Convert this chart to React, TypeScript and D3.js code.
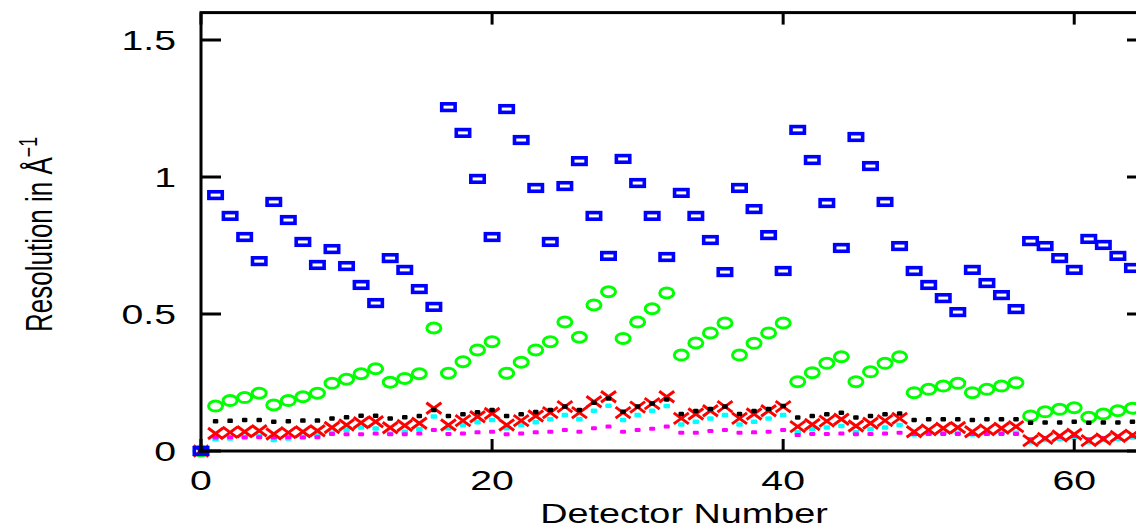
import React from "react";
import * as d3 from "d3";

// Resolution (1/Å) per detector, six quantities
const blueSquares = [
  0, 0.934, 0.858, 0.781, 0.693, 0.909, 0.843, 0.763, 0.679, 0.737, 0.675, 0.606, 0.54,
  0.704, 0.661, 0.591, 0.526, 1.255, 1.161, 0.993, 0.781, 1.248, 1.135, 0.96, 0.763,
  0.967, 1.058, 0.858, 0.712, 1.066, 0.978, 0.858, 0.708, 0.942, 0.858, 0.77, 0.653,
  0.96, 0.883, 0.788, 0.657, 1.172, 1.062, 0.905, 0.741, 1.146, 1.04, 0.909, 0.748,
  0.657, 0.606, 0.558, 0.507, 0.661, 0.613, 0.569, 0.518, 0.766, 0.748, 0.704, 0.661,
  0.774, 0.752, 0.712, 0.668,
];
const greenCircles = [
  0, 0.164, 0.184, 0.195, 0.211, 0.168, 0.184, 0.198, 0.211, 0.247, 0.262, 0.282, 0.3,
  0.251, 0.265, 0.282, 0.449, 0.284, 0.326, 0.369, 0.399, 0.284, 0.324, 0.369, 0.399,
  0.471, 0.415, 0.533, 0.581, 0.411, 0.471, 0.519, 0.577, 0.35, 0.394, 0.431, 0.467,
  0.35, 0.393, 0.431, 0.467, 0.253, 0.286, 0.32, 0.344, 0.253, 0.289, 0.32, 0.344,
  0.213, 0.225, 0.237, 0.247, 0.213, 0.225, 0.237, 0.249, 0.128, 0.143, 0.152, 0.158,
  0.123, 0.135, 0.147, 0.156,
];
const blackDots = [
  0, 0.109, 0.11, 0.113, 0.113, 0.107, 0.109, 0.111, 0.111, 0.119, 0.123, 0.129, 0.129,
  0.119, 0.123, 0.128, 0.15, 0.128, 0.134, 0.141, 0.15, 0.128, 0.134, 0.142, 0.15,
  0.162, 0.15, 0.176, 0.192, 0.143, 0.162, 0.173, 0.188, 0.135, 0.146, 0.153, 0.162,
  0.135, 0.146, 0.153, 0.164, 0.122, 0.128, 0.134, 0.14, 0.122, 0.128, 0.134, 0.137,
  0.113, 0.116, 0.116, 0.116, 0.113, 0.116, 0.116, 0.116, 0.103, 0.104, 0.104, 0.107,
  0.103, 0.104, 0.104, 0.107,
];
const redCrosses = [
  0, 0.064, 0.068, 0.07, 0.074, 0.062, 0.067, 0.07, 0.074, 0.086, 0.095, 0.103, 0.107,
  0.085, 0.093, 0.101, 0.156, 0.095, 0.111, 0.125, 0.137, 0.095, 0.111, 0.128, 0.14,
  0.162, 0.14, 0.18, 0.198, 0.14, 0.16, 0.173, 0.198, 0.119, 0.135, 0.147, 0.162,
  0.119, 0.135, 0.147, 0.162, 0.089, 0.097, 0.109, 0.116, 0.091, 0.101, 0.111, 0.119,
  0.07, 0.077, 0.083, 0.086, 0.07, 0.077, 0.083, 0.089, 0.038, 0.046, 0.055, 0.061,
  0.038, 0.044, 0.053, 0.058,
];
const cyanDots = [
  0, 0.043, 0.046, 0.052, 0.055, 0.04, 0.046, 0.052, 0.058, 0.067, 0.077, 0.086, 0.082,
  0.063, 0.07, 0.079, 0.126, 0.083, 0.095, 0.105, 0.113, 0.083, 0.095, 0.105, 0.116,
  0.131, 0.116, 0.147, 0.165, 0.113, 0.131, 0.147, 0.164, 0.097, 0.107, 0.119, 0.131,
  0.097, 0.107, 0.119, 0.131, 0.068, 0.079, 0.086, 0.091, 0.068, 0.079, 0.086, 0.095,
  0.06, 0.064, 0.066, 0.067, 0.06, 0.064, 0.066, 0.067, 0.032, 0.04, 0.044, 0.049,
  0.032, 0.04, 0.044, 0.049,
];
const magentaDots = [
  0, 0.049, 0.05, 0.049, 0.05, 0.049, 0.05, 0.049, 0.05, 0.062, 0.061, 0.061, 0.064,
  0.061, 0.061, 0.064, 0.077, 0.062, 0.064, 0.068, 0.07, 0.061, 0.064, 0.068, 0.07,
  0.077, 0.07, 0.083, 0.089, 0.07, 0.077, 0.081, 0.089, 0.067, 0.067, 0.073, 0.077,
  0.067, 0.068, 0.07, 0.077, 0.058, 0.062, 0.062, 0.064, 0.061, 0.062, 0.064, 0.067,
  0.062, 0.062, 0.062, 0.062, 0.062, 0.062, 0.062, 0.062, 0.043, 0.047, 0.052, 0.055,
  0.043, 0.047, 0.052, 0.055,
];

const xTicks = [0, 20, 40, 60];
const yTicks = [0, 0.5, 1, 1.5];
const yTickLabels = ["0", "0.5", "1", "1.5"];
const xTitle = "Detector Number";

const W = 1136;
const H = 530;
const left = 201;
const right = 1147;
const top = 12.6;
const bottom = 451;
const STRETCH = 1.4;
const FONT = "'Liberation Sans', Arial, Helvetica, sans-serif";

export default function App() {
  const x = d3.scaleLinear().domain([0, 65]).range([left, right]);
  const y = d3.scaleLinear().domain([0, 1.6]).range([bottom, top]);
  const detectors = blueSquares.map((_, i) => i);

  const dots = (vals: number[], color: string, w: number, h: number) =>
    detectors.map((d) => (
      <rect
        key={d}
        x={x(d) - w / 2}
        y={y(vals[d]) - h / 2}
        width={w}
        height={h}
        rx={1.2}
        fill={color}
      />
    ));

  return (
    <svg
      width={W}
      height={H}
      style={{ position: "absolute", left: 0, top: 0, background: "#fff" }}
    >
      {/* green circles */}
      <g fill="none" stroke="#00ff00" strokeWidth={3}>
        {detectors.map((d) => (
          <ellipse key={d} cx={x(d)} cy={y(greenCircles[d])} rx={7} ry={5} />
        ))}
      </g>
      <g>{dots(cyanDots, "#00ffff", 6.5, 4.5)}</g>
      <g>{dots(magentaDots, "#ff00ff", 6, 4)}</g>
      {/* red crosses */}
      <g stroke="#ff0000" strokeWidth={3} fill="none">
        {detectors.map((d) => {
          const cx = x(d);
          const cy = y(redCrosses[d]);
          return (
            <path
              key={d}
              d={`M${cx - 7.5},${cy - 5.5}L${cx + 7.5},${cy + 5.5}M${cx - 7.5},${cy + 5.5}L${cx + 7.5},${cy - 5.5}`}
            />
          );
        })}
      </g>
      <g>{dots(blackDots, "#000", 5.5, 4.5)}</g>
      {/* blue squares */}
      <g fill="none" stroke="#0000ff" strokeWidth={3.6}>
        {detectors.map((d) => (
          <rect key={d} x={x(d) - 6.7} y={y(blueSquares[d]) - 3.3} width={13.4} height={6.6} />
        ))}
      </g>

      {/* frame */}
      <g stroke="#000" strokeWidth={3} fill="none">
        <rect x={left} y={top} width={right - left} height={bottom - top} />
        {yTicks.map((t) => (
          <g key={t}>
            <line x1={left} x2={left + 20} y1={y(t)} y2={y(t)} />
            <line x1={right} x2={right - 20} y1={y(t)} y2={y(t)} />
          </g>
        ))}
        {xTicks.map((t) => (
          <g key={t}>
            <line x1={x(t)} x2={x(t)} y1={bottom} y2={bottom - 12} />
            <line x1={x(t)} x2={x(t)} y1={top} y2={top + 12} />
          </g>
        ))}
      </g>

      {/* tick labels */}
      <g fontFamily={FONT} fontSize={28} fill="#000">
        {yTicks.map((t, i) => (
          <text
            key={t}
            transform={`translate(176,${y(t) + 10}) scale(${STRETCH},1)`}
            textAnchor="end"
          >
            {yTickLabels[i]}
          </text>
        ))}
        {xTicks.map((t) => (
          <text
            key={t}
            transform={`translate(${x(t)},490) scale(${STRETCH},1)`}
            textAnchor="middle"
          >
            {t}
          </text>
        ))}
        <text
          transform={`translate(684,523) scale(${STRETCH},1)`}
          textAnchor="middle"
          fontSize={27}
        >
          {xTitle}
        </text>
      </g>

      {/* y axis title */}
      <text
        transform={`translate(52,332) scale(${STRETCH},1) rotate(-90)`}
        fontFamily={FONT}
        fontSize={26}
        fill="#000"
      >
        Resolution in Å
        <tspan fontSize={18} dy={-11}>−1</tspan>
      </text>
    </svg>
  );
}
